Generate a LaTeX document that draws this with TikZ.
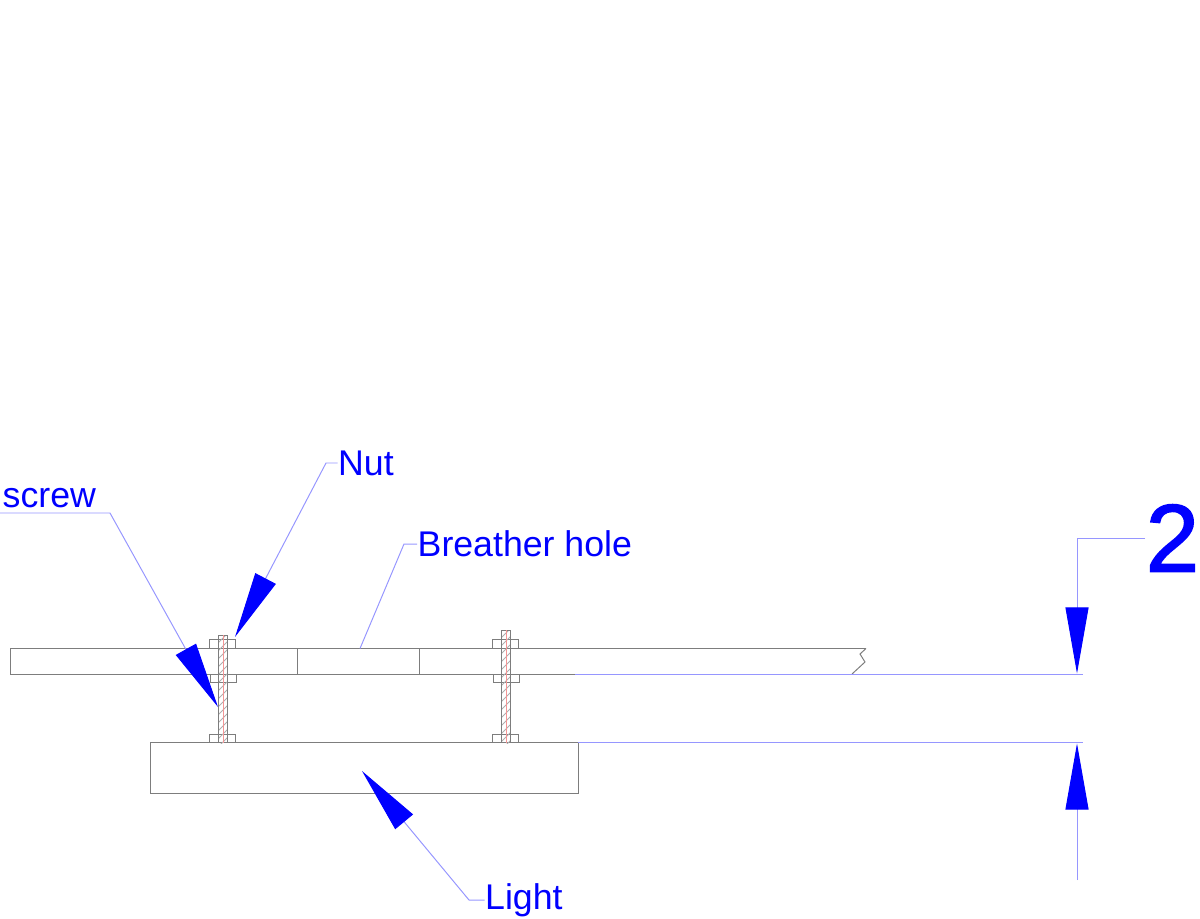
\documentclass[tikz,border=0pt]{standalone}
\usepackage{fontspec}
\setmainfont{Liberation Sans}
\newfontfamily\dimfont[FakeBold=1.6]{Liberation Sans}
\usetikzlibrary{arrows.meta}

\begin{document}
\begin{tikzpicture}[x=0.01cm, y=-0.01cm]

% Define colors
\definecolor{myblue}{RGB}{0, 0, 255}
\definecolor{myleader}{RGB}{150, 150, 255}
\definecolor{myline}{RGB}{125, 125, 125}
\definecolor{myhatch}{RGB}{175, 175, 175}
\definecolor{myaxis}{RGB}{245, 150, 150}

\tikzset{
  part/.style={draw=myline, line width=0.28pt},
  leader/.style={draw=myleader, line width=0.28pt},
  callout/.style={anchor=west, inner sep=0pt, text=myblue, font=\fontsize{10.15}{12}\selectfont},
  tip/.style={-{Triangle[length=0.66cm, width=0.23cm, color=myblue, fill=myblue]}}
}

\useasboundingbox (0, 0) rectangle (1200, 918);

% Draw the plate
\draw[part] (866, 648.5) -- (10.5, 648.5) -- (10.5, 674) -- (852, 674);
\draw[part] (866, 648.5) -- (860, 654) -- (865, 662) -- (852, 674);
\draw[part] (297, 648.5) -- (297, 674);
\draw[part] (419, 648.5) -- (419, 674);

% Draw the light
\draw[part] (150.5, 742.5) rectangle (578, 793.5);

% Draw the screws
\foreach \bx/\bt in {223/635, 506/630} {
  \draw[part] (\bx-13.5, 648.5) -- (\bx-13.5, 639) -- (\bx+12.5, 639) -- (\bx+12.5, 648.5);
  \draw[part] (\bx-13, 674) -- (\bx-13, 682) -- (\bx+13, 682) -- (\bx+13, 674);
  \draw[part] (\bx-13.5, 742.5) -- (\bx-13.5, 734.5) -- (\bx+12.5, 734.5) -- (\bx+12.5, 742.5);
  \begin{scope}
    \clip (\bx-4.5, \bt) rectangle (\bx+4.5, 743);
    \foreach \hy in {0, 8, ..., 128} {
      \draw[myhatch, line width=0.22pt] (\bx-5, \bt+\hy) -- (\bx+5, \bt+\hy-10);
    }
  \end{scope}
  \draw[part] (\bx-4.5, 743) -- (\bx-4.5, \bt) -- (\bx+4.5, \bt) -- (\bx+4.5, 743);
  \draw[myaxis, line width=0.25pt] (\bx, \bt) -- (\bx, 743);
}

% Add the labels
\node[callout] (screw) at (2, 498.5) {screw};
\node[callout] (nut) at (337.5, 463) {Nut};
\node[callout] (breather) at (417, 544) {Breather hole};
\node[callout] (light) at (484.5, 900) {Light};
\node[anchor=west, inner sep=0pt, text=myblue, font=\dimfont\fontsize{27.3}{30}\selectfont] (dim) at (1145, 538) {2};

% Add the ends of the leaders
\coordinate (screwstart) at (0, 513);
\coordinate (screwbend) at (110, 513);
\coordinate (screwtip) at (218, 707);
\coordinate (nutbend) at (326, 463);
\coordinate (nuttip) at (235, 637);
\coordinate (breatherbend) at (404, 544);
\coordinate (breathertip) at (360, 648.5);
\coordinate (lightbend) at (469, 900);
\coordinate (lighttip) at (362, 771);
\coordinate (dimbend) at (1077, 538);
\coordinate (uppertip) at (1077, 673.5);
\coordinate (lowertip) at (1077, 743.5);
\coordinate (lowerend) at (1077, 880);
\coordinate (plateedge) at (575, 674);
\coordinate (plateend) at (1083, 674);
\coordinate (lightedge) at (578, 742.5);
\coordinate (lightend) at (1083, 742.5);

% Draw the leaders
\draw[leader, tip] (screwstart) -- (screwbend) -- (screwtip);
\draw[leader, tip] (nut.west) -- (nutbend) -- (nuttip);
\draw[leader] (breather.west) -- (breatherbend) -- (breathertip);
\draw[leader, tip] (light.west) -- (lightbend) -- (lighttip);

% Draw the dimension
\draw[leader] (plateedge) -- (plateend);
\draw[leader] (lightedge) -- (lightend);
\draw[leader, tip] (dim.west) -- (dimbend) -- (uppertip);
\draw[leader, tip] (lowerend) -- (lowertip);

\end{tikzpicture}
\end{document}
